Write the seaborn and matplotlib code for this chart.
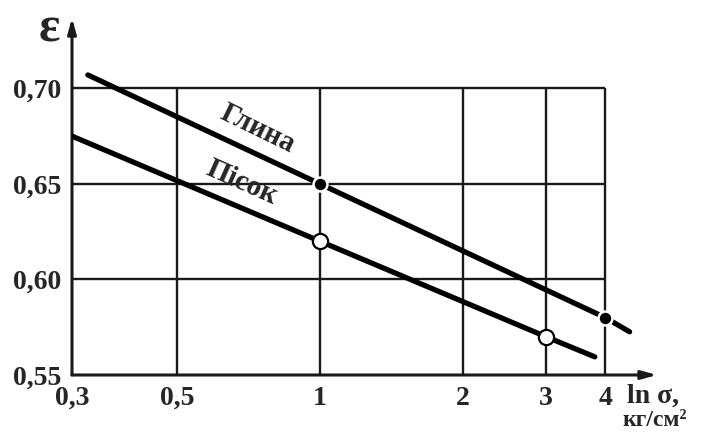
import matplotlib
matplotlib.use("Agg")
import matplotlib.pyplot as plt
import seaborn as sns
import pandas as pd

# Void ratio vs. log of compressive stress
clay_sigma = [0.324, 1.0, 4.0, 4.5]
clay_eps = [0.707, 0.65, 0.58, 0.5726]
clay_pts_sigma = [1.0, 4.0]
clay_pts_eps = [0.65, 0.58]

sand_sigma = [0.30, 1.0, 3.0, 3.8]
sand_eps = [0.675, 0.62, 0.57, 0.5595]
sand_pts_sigma = [1.0, 3.0]
sand_pts_eps = [0.62, 0.57]

x_ticks = [0.3, 0.5, 1, 2, 3, 4]
x_tick_labels = ["0,3", "0,5", "1", "2", "3", "4"]
y_ticks = [0.55, 0.60, 0.65, 0.70]
y_tick_labels = ["0,55", "0,60", "0,65", "0,70"]

sns.set_style("white")
plt.rcParams["font.family"] = ["Liberation Serif", "DejaVu Serif"]
plt.rcParams["font.weight"] = "bold"

fig = plt.figure(figsize=(7.09, 4.34), dpi=100)
ax = fig.add_axes([72 / 709, 59 / 434, 585 / 709, 357 / 434])

x_min, x_max = 0.3, 5.14
y_min, y_max = 0.55, 0.7368
ax.set_xscale("log")
ax.set_xlim(x_min, x_max)
ax.set_ylim(y_min, y_max)

# grid confined to the box 0.3..4 x 0.55..0.70
ax.vlines([0.5, 1, 2, 3, 4], y_min, 0.70, color="#1a1a1a", lw=1.7, zorder=1)
ax.hlines([0.60, 0.65, 0.70], x_min, 4, color="#1a1a1a", lw=1.7, zorder=1)

clay = pd.DataFrame({"sigma": clay_sigma, "eps": clay_eps})
sand = pd.DataFrame({"sigma": sand_sigma, "eps": sand_eps})
sns.lineplot(data=clay, x="sigma", y="eps", ax=ax, color="black", lw=3.8,
             sort=False, estimator=None, zorder=3)
sns.lineplot(data=sand, x="sigma", y="eps", ax=ax, color="black", lw=3.8,
             sort=False, estimator=None, zorder=3)

sns.scatterplot(x=clay_pts_sigma, y=clay_pts_eps, ax=ax, s=100, color="black",
                edgecolor="white", linewidth=1.8, zorder=4)
sns.scatterplot(x=sand_pts_sigma, y=sand_pts_eps, ax=ax, s=120, color="white",
                edgecolor="black", linewidth=1.6, zorder=4)

# axes with arrows
for s in ax.spines.values():
    s.set_visible(False)
ax.annotate("", xy=(1.0, 0.0), xytext=(0.0, 0.0), xycoords="axes fraction",
            arrowprops=dict(arrowstyle="-|>,head_length=0.9,head_width=0.25",
                            color="#1a1a1a", lw=2.2, shrinkA=0, shrinkB=0),
            zorder=2, annotation_clip=False)
ax.annotate("", xy=(0.0, 1.0), xytext=(0.0, 0.0), xycoords="axes fraction",
            arrowprops=dict(arrowstyle="-|>,head_length=0.9,head_width=0.25",
                            color="#1a1a1a", lw=2.2, shrinkA=0, shrinkB=0),
            zorder=2, annotation_clip=False)

ax.set_xticks(x_ticks)
ax.set_xticklabels(x_tick_labels)
ax.xaxis.set_minor_locator(matplotlib.ticker.NullLocator())
ax.set_yticks(y_ticks)
ax.set_yticklabels(y_tick_labels)
ax.tick_params(axis="both", length=0, labelsize=20)
ax.tick_params(axis="x", pad=8)
ax.tick_params(axis="y", pad=8)
for lab in ax.get_xticklabels() + ax.get_yticklabels():
    lab.set_fontweight("bold")
ax.set_xlabel("")
ax.set_ylabel("")

# curve labels
ax.text(0.74, 0.679, "Глина", fontsize=21, fontweight="bold", rotation=-26,
        ha="center", va="center", rotation_mode="anchor", zorder=5)
ax.text(0.685, 0.651, "Пісок", fontsize=21, fontweight="bold", rotation=-24,
        ha="center", va="center", rotation_mode="anchor", zorder=5)

# axis titles
fig.text(49 / 709, 1 - 30 / 434, "ε", fontsize=36, ha="center", va="center")
fig.text(627 / 709, 1 - 403 / 434, "ln σ,", fontsize=20, fontweight="bold",
         ha="left", va="baseline")
fig.text(622 / 709, 1 - 426 / 434, "кг/см²", fontsize=17, fontweight="bold",
         ha="left", va="baseline")

fig.savefig("out.png", dpi=100)
